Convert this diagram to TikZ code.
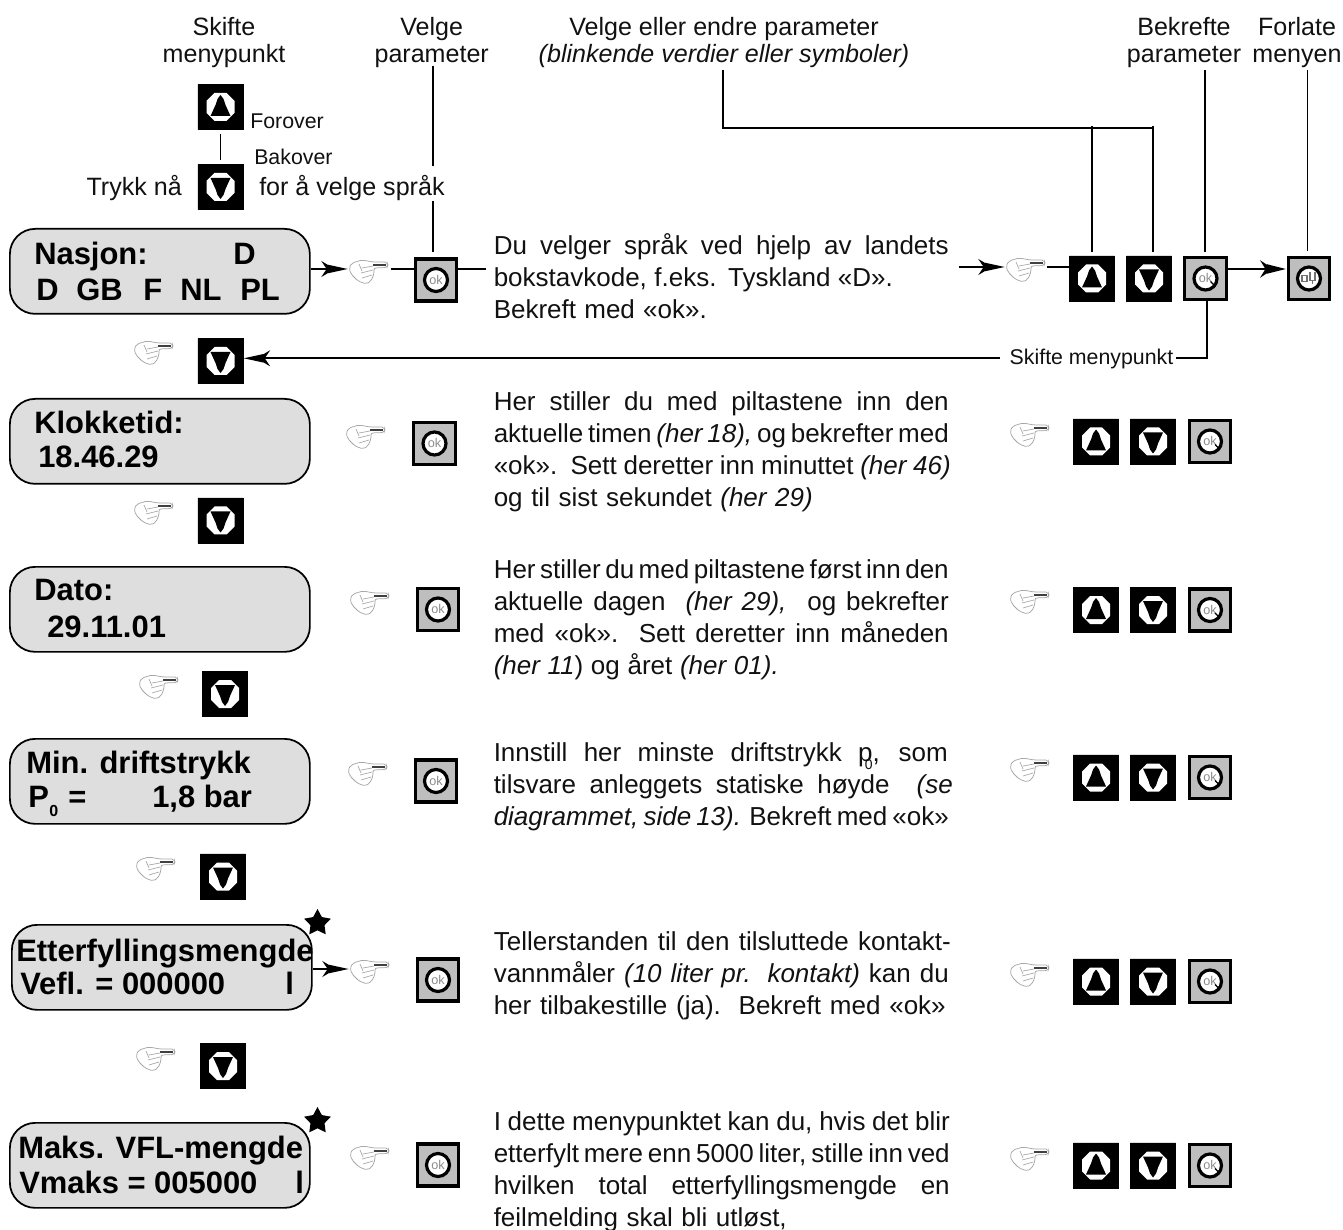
\documentclass[tikz,border=0pt]{standalone}
\usepackage{fontspec}
\setmainfont{Liberation Sans}
\usetikzlibrary{shapes.geometric,shapes.misc,arrows.meta}
\newlength{\pxu}\setlength{\pxu}{.75pt}
\newcommand{\jl}[2]{\makebox[#1\pxu][s]{\spaceskip=.24em plus 3em minus .2em\strut #2}}
\definecolor{lcdfill}{HTML}{DEDEDE}
\definecolor{okfill}{HTML}{BEBEBE}
\definecolor{ink}{HTML}{111111}
\tikzset{
  x=.75pt,y=-.75pt,
  lcd/.style={draw=black,fill=lcdfill,line width=1.3pt,rounded corners=19pt,minimum width=225pt,minimum height=63.75pt,inner sep=0pt},
  lcdtext/.style={anchor=base west,inner sep=0pt,font=\fontsize{23.2}{23.2}\selectfont\bfseries,text=black},
  body/.style={anchor=north west,inner sep=0pt,align=left,text=ink,font=\fontsize{19.5}{24.1}\selectfont},
  head/.style={anchor=north,inner sep=0pt,align=center,text=ink,font=\fontsize{18.8}{19.9}\selectfont},
  small/.style={inner sep=0pt,text=ink,font=\fontsize{16}{18}\selectfont},
  blackbtn/.style={chamfered rectangle,chamfered rectangle xsep=2.6pt,chamfered rectangle ysep=2.6pt,fill=black,draw=black,line width=.4pt,minimum width=34pt,minimum height=34pt,inner sep=0pt},
  greybtn/.style={chamfered rectangle,chamfered rectangle xsep=3pt,chamfered rectangle ysep=3pt,fill=okfill,draw=black,line width=2.3pt,minimum width=31pt,minimum height=31.5pt,inner sep=0pt},
  conn/.style={draw=black,line width=1.35pt},
  jet/.style={conn,-{Stealth[length=10pt,width=12pt,inset=4pt,sep=-5pt]Stealth[length=15pt,width=6pt,inset=0pt]}},
  jetthick/.style={draw=black,line width=2.2pt,-{Stealth[length=10pt,width=13pt,inset=4pt,sep=-5pt]Stealth[length=15pt,width=6.5pt,inset=0pt]}},
  starmark/.style={star,star points=5,star point ratio=1.9,fill=black,minimum size=21pt,inner sep=0pt},
  hand/.pic={
    \coordinate (-tip) at (0,0);
    \coordinate (-left) at (-40,4);
    \draw[gray!70,line width=.55pt,fill=white,rounded corners=1.5pt]
      (-15,-3) -- (-1,-3) -- (0,0) -- (-1,2.5) -- (-14,3) -- (-14,9) -- (-17,16) -- (-22,19) -- (-30,16) -- (-37,9) -- (-39,3) -- (-36,-2) -- (-26,-5) -- cycle;
    \draw[gray!50!black,line width=.9pt] (-15,0) -- (-2,0);
    \draw[gray!70,line width=.5pt] (-26,3) -- (-15,1) (-27,8) -- (-15,5) (-26,13) -- (-16,10) (-29,-1) -- (-26,6);
  },
  upglyph/.pic={
    \fill[white] (-6,-14) -- (6,-14) -- (14,-6) -- (14,6) -- (6,14) -- (-6,14) -- (-14,6) -- (-14,-6) -- cycle;
    \fill[black] (0,-12) -- (3,-8) -- (5,-2) -- (10,9) -- (-10,9) -- (-5,-2) -- (-3,-8) -- cycle;
  },
  downglyph/.pic={
    \fill[white] (-6,-14) -- (6,-14) -- (14,-6) -- (14,6) -- (6,14) -- (-6,14) -- (-14,6) -- (-14,-6) -- cycle;
    \fill[black] (0,12) -- (3,8) -- (5,2) -- (10,-9) -- (-10,-9) -- (-5,2) -- (-3,8) -- cycle;
  },
  okglyph/.pic={
    \draw[black,fill=white,line width=2.4pt] (0,0) circle[radius=11.5];
    \node[inner sep=0pt,text=black!45,font=\fontsize{9.5}{9.5}\selectfont] at (0,-.5) {ok};
  },
  tick/.pic={\draw[black,line width=1pt] (5,3) -- (10,8);},
  exitglyph/.pic={
    \draw[black,fill=white,line width=2.4pt] (0,0) circle[radius=11.5];
    \draw[black!55,line width=.9pt] (-7,-3) -- (-2,-3) -- (-2,3) -- (-7,3) -- cycle (1,-6) -- (1,2) -- (6,2) -- (6,-6) (3.5,2) -- (3.5,6);
  },
}
\newcommand{\upbtn}[2]{\node[blackbtn] (#1) at (#2) {}; \pic at (#1) {upglyph};}
\newcommand{\downbtn}[2]{\node[blackbtn] (#1) at (#2) {}; \pic at (#1) {downglyph};}
\newcommand{\okbtn}[2]{\node[greybtn] (#1) at (#2) {}; \pic at (#1) {okglyph};}
\newcommand{\okbtnr}[2]{\node[greybtn] (#1) at (#2) {}; \pic at (#1) {okglyph}; \pic at (#1) {tick};}
\newcommand{\handat}[2]{\pic (#1) at (#2) {hand};}
\begin{document}
\begin{tikzpicture}
\useasboundingbox (0,0) rectangle (1343,1230);

% headers
\node[head] (hSkifte) at (224,17) {\strut Skifte\\menypunkt};
\node[head] (hVelge) at (431.7,17) {\strut Velge\\parameter};
\node[head] (hEndre) at (724,17) {\strut Velge eller endre parameter\\\textit{(blinkende verdier eller symboler)}};
\node[head] (hBekr) at (1184,17) {\strut Bekrefte\\parameter};
\node[head] (hForl) at (1297,17) {\strut Forlate\\menyen};

% top keys
\upbtn{keyUp}{220.5,107}
\downbtn{keyDown}{220.5,187}
\draw[conn] (keyUp.south) ++(0,4) -- ([yshift=3pt]keyDown.north);
\node[small,anchor=base west] (tFor) at (250,129) {Forover};
\node[small,anchor=base west] (tBak) at (254,165) {Bakover};
\node[anchor=base east,inner sep=0pt,text=ink,font=\fontsize{18.8}{20}\selectfont] (tTrykk) at (182,196) {Trykk nå};
\node[anchor=base west,inner sep=0pt,text=ink,font=\fontsize{18.8}{20}\selectfont] (tFor2) at (259,196) {for å velge språk};

% display boxes
\node[lcd,anchor=north west] (bNasjon) at (9,228) {};
\node[lcdtext] (n1) at (34,265) {Nasjon:};
\node[lcdtext] (n2) at (233,265) {D};
\node[lcdtext] (n3) at (36,301) {D};
\node[lcdtext] (n4) at (76,301) {GB};
\node[lcdtext] (n5) at (143,301) {F};
\node[lcdtext] (n6) at (180,301) {NL};
\node[lcdtext] (n7) at (240,301) {PL};

\node[lcd,anchor=north west] (bKlokke) at (9,398) {};
\node[lcdtext] (k1) at (34,434) {Klokketid:};
\node[lcdtext] (k2) at (38,468) {18.46.29};

\node[lcd,anchor=north west] (bDato) at (9,566) {};
\node[lcdtext] (d1) at (34,600) {Dato:};
\node[lcdtext] (d2) at (47,637) {29.11.01};

\node[lcd,anchor=north west] (bMin) at (9,738) {};
\node[lcdtext] (m1) at (26,773) {Min. driftstrykk};
\node[lcdtext] (m2) at (28,807) {P};
\node[lcdtext,font=\fontsize{12}{12}\selectfont\bfseries] (m3) at (49,816) {0};
\node[lcdtext] (m4) at (68,807) {=};
\node[lcdtext] (m5) at (152,807) {1,8 bar};

\node[lcd,anchor=north west] (bEtter) at (11,924) {};
\node[lcdtext] (e1) at (16,961) {Etterfyllingsmengde};
\node[lcdtext] (e2) at (20,994) {Vefl. = 000000};
\node[lcdtext] (e3) at (285,994) {l};
\node[starmark] (s1) at (317.5,923) {};

\node[lcd,anchor=north west] (bMaks) at (9,1122) {};
\node[lcdtext] (a1) at (18,1158) {Maks. VFL-mengde};
\node[lcdtext] (a2) at (19,1193) {Vmaks = 005000};
\node[lcdtext] (a3) at (295,1193) {l};
\node[starmark] (s2) at (317.5,1121) {};

% left column keys
\okbtn{okA}{436,280}
\okbtn{okB}{434.5,443.5}
\okbtn{okC}{438,609.5}
\okbtn{okD}{436,781}
\okbtn{okE}{438,980}
\okbtn{okF}{438,1165}
\handat{hA}{388,265}
\handat{hB}{385,430}
\handat{hC}{389,596}
\handat{hD}{387,767}
\handat{hE}{389,965}
\handat{hF}{389,1151}
\downbtn{dnA}{220.5,361}
\downbtn{dnB}{220.5,520.5}
\downbtn{dnC}{225,694}
\downbtn{dnD}{223,876.5}
\downbtn{dnE}{223,1066}
\handat{hdA}{173,346}
\handat{hdB}{173,506}
\handat{hdC}{178,680}
\handat{hdD}{175,862}
\handat{hdE}{175,1052}

% right column keys
\upbtn{upA}{1092,278.5}
\downbtn{rdA}{1149,278.5}
\okbtnr{okrA}{1205.5,278.5}
\node[greybtn] (exitA) at (1309,278.5) {};
\pic at (exitA) {exitglyph};
\upbtn{upB}{1096,441.5}
\downbtn{rdB}{1153,441.5}
\okbtnr{okrB}{1210,441.5}
\upbtn{upC}{1096,610}
\downbtn{rdC}{1153,610}
\okbtnr{okrC}{1210,610}
\upbtn{upD}{1096,777.5}
\downbtn{rdD}{1153,777.5}
\okbtnr{okrD}{1210,777.5}
\upbtn{upE}{1096,981.5}
\downbtn{rdE}{1153,981.5}
\okbtnr{okrE}{1210,981.5}
\upbtn{upF}{1096,1165.5}
\downbtn{rdF}{1153,1165.5}
\okbtnr{okrF}{1210,1165.5}
\handat{hrA}{1045,263}
\handat{hrB}{1049,428}
\handat{hrC}{1049,595}
\handat{hrD}{1049,763}
\handat{hrE}{1049,968}
\handat{hrF}{1049,1152}

% body text
\node[body] (p1) at (493.5,231.6) {\jl{455}{Du velger språk ved hjelp av landets}\\\jl{399}{bokstavkode, f.eks. Tyskland «D».}\\\jl{213}{Bekreft med «ok».}};
\node[body] (p2) at (493.5,387.6) {\jl{455}{Her stiller du med piltastene inn den}\\\jl{455}{aktuelle timen \textit{(her 18),} og bekrefter med}\\\jl{457}{«ok».\ \ Sett deretter inn minuttet \textit{(her 46)}}\\\jl{319}{og til sist sekundet \textit{(her 29)}}};
\node[body] (p3) at (493.5,555.6) {\jl{455}{Her stiller du med piltastene først inn den}\\\jl{455}{aktuelle dagen \ \textit{(her 29),} \ og bekrefter}\\\jl{455}{med «ok».\ \ Sett deretter inn måneden}\\\jl{285}{\textit{(her 11}) og året \textit{(her 01).}}};
\node[body] (p4) at (493.5,738.6) {\jl{454}{Innstill her minste driftstrykk p\kern-.3em\raisebox{-.3em}{\fontsize{10.5}{10.5}\selectfont 0}, som}\\\jl{459}{tilsvare anleggets statiske høyde \ \textit{(se}}\\\jl{455}{\textit{diagrammet, side 13).} Bekreft med «ok»}};
\node[body] (p5) at (493.5,927.6) {\jl{457}{Tellerstanden til den tilsluttede kontakt-}\\\jl{455}{vannmåler \textit{(10 liter pr. kontakt)} kan du}\\\jl{452}{her tilbakestille (ja).\ \ Bekreft med «ok»}};
\node[body] (p6) at (493.5,1107.6) {\jl{456}{I dette menypunktet kan du, hvis det blir}\\\jl{456}{etterfylt mere enn 5000 liter, stille inn ved}\\\jl{456}{hvilken total etterfyllingsmengde en}\\\jl{293}{feilmelding skal bli utløst,}};

% connectors
\coordinate (vA) at (432.7,66.5);
\coordinate (vB) at (432.7,166.5);
\coordinate (vC) at (432.7,201.5);
\draw[conn] (vA) -- (vB);
\draw[conn,shorten >=4pt] (vC) -- (vC |- okA.north);
\coordinate (eA) at (723,70);
\coordinate (eB) at (723,128);
\coordinate (eC) at (1153.3,128);
\coordinate (eUp) at (1091.7,126);
\coordinate (eDn) at (1153.3,126);
\draw[conn] (eA) -- (eB) -- (eC);
\draw[conn,shorten >=3pt] (eUp) -- (eUp |- upA.north);
\draw[conn,shorten >=3pt] (eDn) -- (eDn |- rdA.north);
\coordinate (bA) at (1205.3,70);
\coordinate (fA) at (1307.5,70);
\draw[conn,shorten >=3pt] (bA) -- (bA |- okrA.north);
\draw[conn,shorten >=4pt] (fA) -- (fA |- exitA.north);

\coordinate (lA) at (391,269);
\draw[jet] (bNasjon.east |- lA) -- (hA-left |- lA);
\draw[conn] (lA) -- (lA -| okA.west);
\draw[conn,shorten >=5.5pt] (lA -| okA.east) -- (lA -| p1.west);
\coordinate (rA) at (959,267);
\coordinate (rB) at (1047,267);
\draw[jet] (rA) -- (rA -| hrA-left);
\draw[conn] (rB) -- (rB -| upA.west);
\coordinate (tA) at (1227,269);
\draw[jetthick] (tA -| okrA.east) -- (tA -| exitA.west);
\coordinate (eArrow) at (313,969);
\draw[jet] (eArrow) -- (eArrow -| hE-left);

\node[small,anchor=base,inner xsep=2pt] (lblSkifte) at (1091.5,365) {Skifte menypunkt};
\coordinate (sA) at (1207,358.3);
\draw[conn] (sA |- okrA.south) -- (sA) -- (sA -| lblSkifte.east);
\draw[jet,shorten <=5pt] (sA -| lblSkifte.west) -- (sA -| dnA.east);
\end{tikzpicture}
\end{document}
